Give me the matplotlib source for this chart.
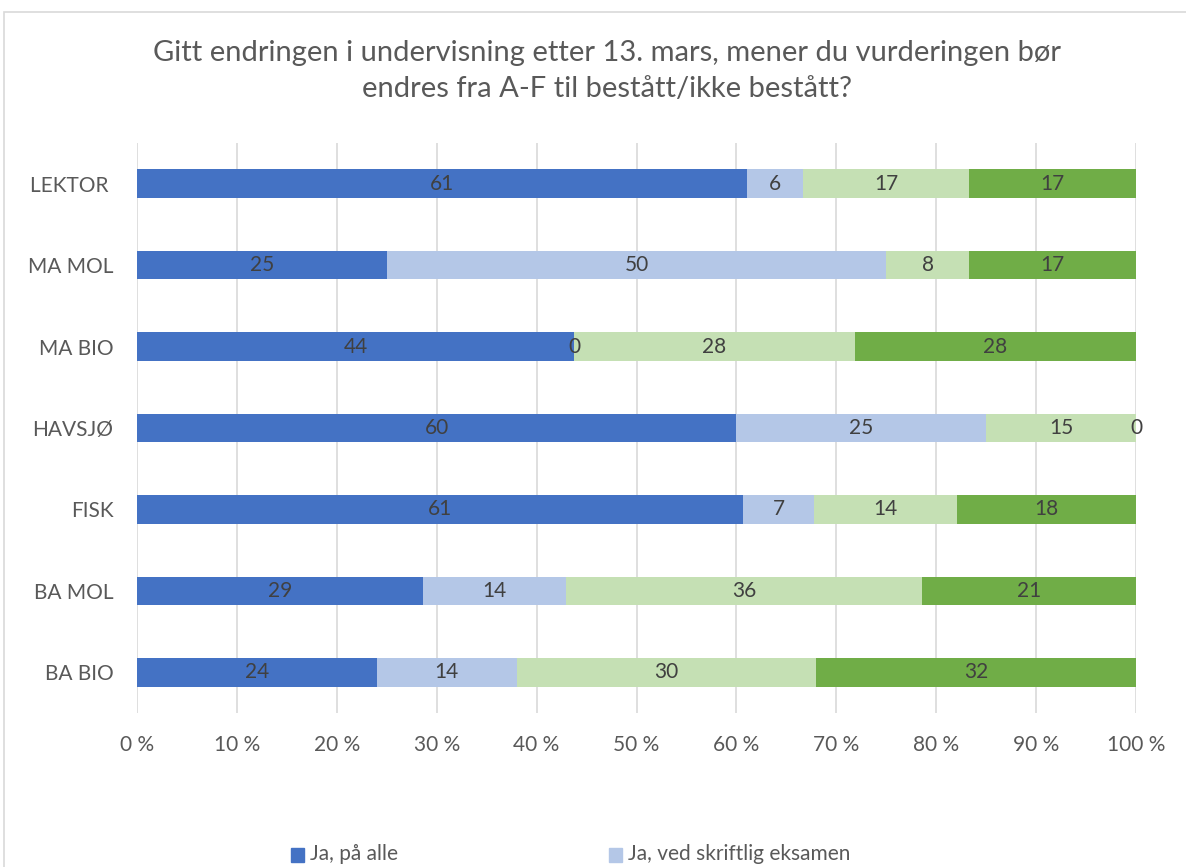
import matplotlib
matplotlib.use("Agg")
import matplotlib.pyplot as plt
from matplotlib.patches import Rectangle
import numpy as np

plt.rcParams['font.family'] = ['Lato', 'DejaVu Sans']

# data (percent of respondents; labels are rounded)
categories = ["LEKTOR ", "MA MOL", "MA BIO", "HAVSJØ", "FISK", "BA MOL", "BA BIO"]
ja_alle = [61.1, 25.0, 43.75, 60.0, 60.7, 28.6, 24.0]
ja_skriftlig = [5.6, 50.0, 0.0, 25.0, 7.1, 14.3, 14.0]
serie3 = [16.7, 8.3, 28.125, 15.0, 14.3, 35.7, 30.0]
serie4 = [16.7, 16.7, 28.125, 0.0, 17.9, 21.4, 32.0]
series_names = ["Ja, på alle", "Ja, ved skriftlig eksamen", "", ""]
colors = ["#4472C4", "#B4C7E7", "#C5E0B4", "#70AD47"]
ticks = [0, 10, 20, 30, 40, 50, 60, 70, 80, 90, 100]

fig = plt.figure(figsize=(11.86, 8.67), dpi=100)
ax = fig.add_axes([137 / 1186, 1 - 713 / 867, 999 / 1186, 570 / 867])

data = np.array([ja_alle, ja_skriftlig, serie3, serie4])
totals = data.sum(axis=0)
pct = data / totals * 100
y = np.arange(len(categories))
left = np.zeros(len(categories))
for i in range(4):
    bars = ax.barh(y, pct[i], left=left, height=0.35, color=colors[i], zorder=3)
    txts = ax.bar_label(bars, labels=[f"{v:.0f}" for v in data[i]], label_type="center",
                        fontsize=15, color="#404040")
    for t in txts:
        t.set_zorder(6)
    left += pct[i]

ax.set_ylim(len(categories) - 0.5, -0.5)
ax.set_yticks(y)
ax.set_yticklabels(categories)
ax.set_xlim(0, 100)
ax.set_xticks(ticks)
ax.set_xticklabels([f"{t} %" for t in ticks])
ax.tick_params(axis="both", length=0, labelsize=15, labelcolor="#595959")
ax.tick_params(axis="y", pad=17)
ax.tick_params(axis="x", pad=16)
ax.grid(axis="x", color="#D9D9D9", linewidth=1.2, zorder=0)
for s in ax.spines.values():
    s.set_visible(False)

fig.text(607 / 1186, 1 - 71 / 867,
         "Gitt endringen i undervisning etter 13. mars, mener du vurderingen bør\nendres fra A-F til bestått/ikke bestått?",
         ha="center", va="center", fontsize=21, color="#595959", linespacing=1.5)

# chart border
fig.patches.append(Rectangle((4 / 1186, -0.1), 1.2, 1.1 - 12 / 867, transform=fig.transFigure,
                             fill=False, edgecolor="#D9D9D9", linewidth=1.2))

# legend (only the first row is visible in the picture)
leg_x = [291, 609]
for i in range(2):
    fig.patches.append(Rectangle((leg_x[i] / 1186, 1 - 862 / 867), 13 / 1186, 14 / 867,
                                 transform=fig.transFigure, color=colors[i]))
    fig.text((leg_x[i] + 19) / 1186, 1 - 854 / 867, series_names[i], ha="left", va="center",
             fontsize=15, color="#595959")

fig.savefig("out.png", dpi=100)
